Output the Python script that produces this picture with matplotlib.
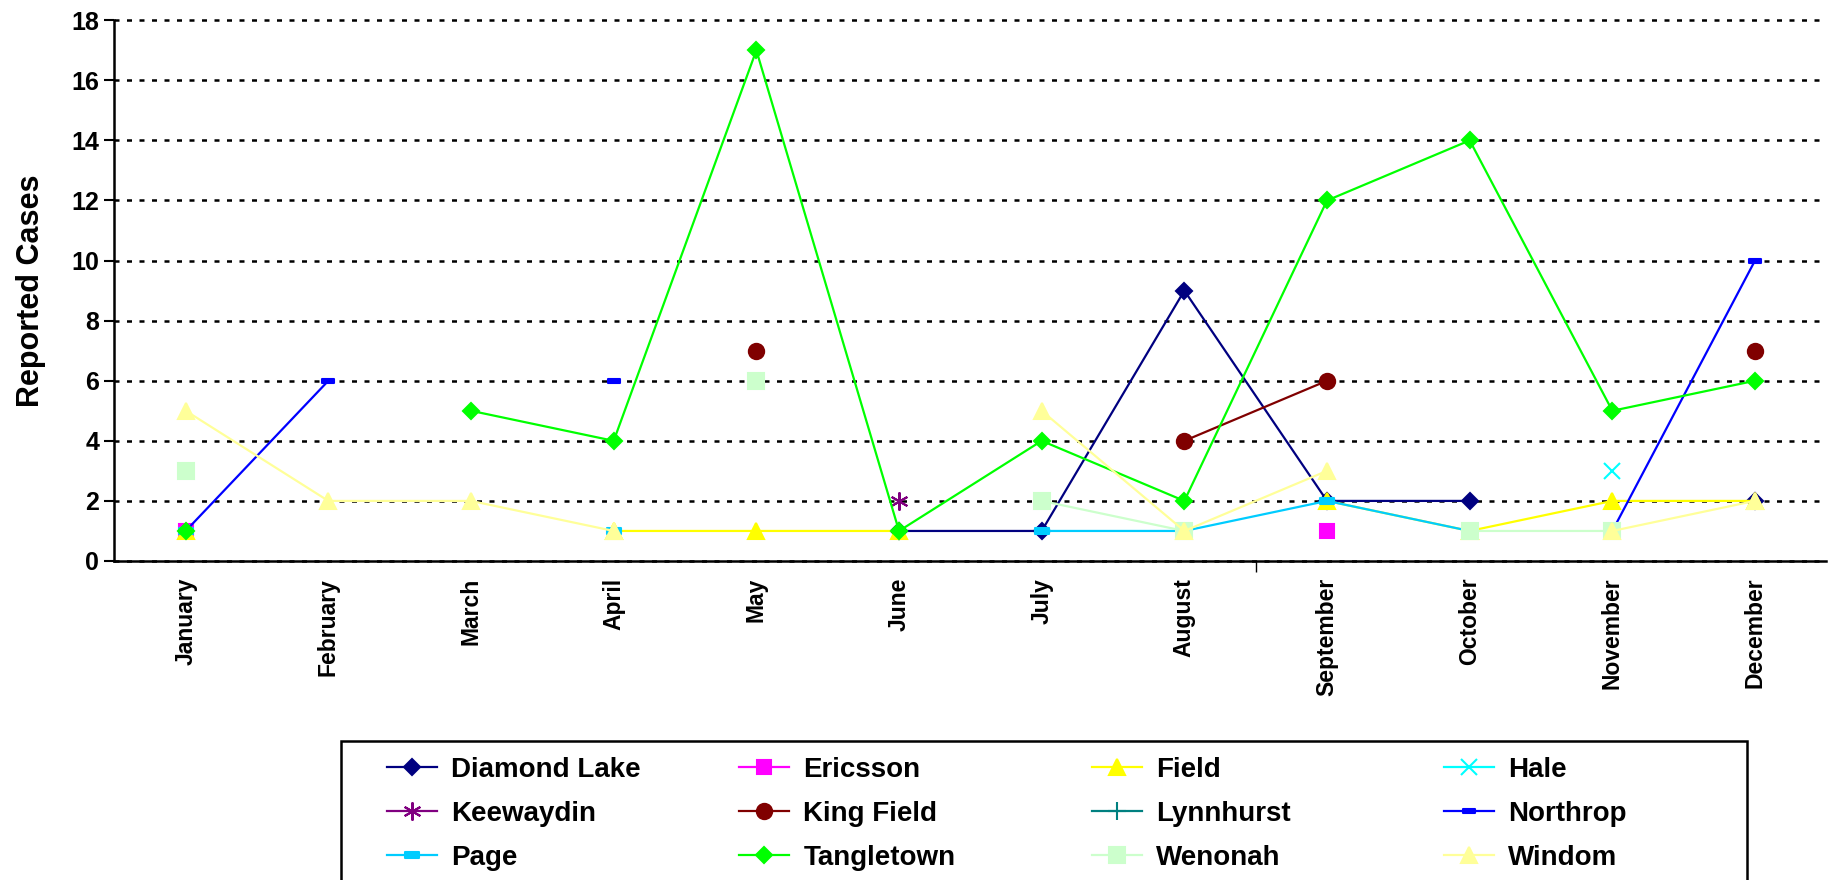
import numpy as np
import matplotlib
matplotlib.use('Agg')
import matplotlib.pyplot as plt
from matplotlib.path import Path
from matplotlib.patches import Rectangle

plt.rcParams['font.family'] = ['Liberation Sans', 'DejaVu Sans']
plt.rcParams['font.weight'] = 'bold'

nan = np.nan
months = ['January', 'February', 'March', 'April', 'May', 'June', 'July',
          'August', 'September', 'October', 'November', 'December']

# reported cases per neighbourhood, nan = no report that month
diamond_lake = [nan, nan, nan, nan, nan, 1, 1, 9, 2, 2, nan, 2]
ericsson     = [1, nan, nan, nan, nan, nan, nan, nan, 1, nan, nan, nan]
field        = [1, nan, nan, 1, 1, 1, nan, nan, 2, 1, 2, 2]
hale         = [nan, nan, nan, nan, nan, nan, nan, nan, nan, nan, 3, nan]
keewaydin    = [nan, nan, nan, nan, nan, 2, nan, nan, nan, nan, nan, nan]
king_field   = [nan, nan, nan, nan, 7, nan, nan, 4, 6, nan, nan, 7]
lynnhurst    = [nan] * 12
northrop     = [1, 6, nan, 6, nan, nan, nan, nan, nan, nan, 1, 10]
page         = [1, nan, nan, 1, nan, nan, 1, 1, 2, 1, nan, nan]
tangletown   = [1, nan, 5, 4, 17, 1, 4, 2, 12, 14, 5, 6]
wenonah      = [3, nan, nan, nan, 6, nan, 2, 1, nan, 1, 1, nan]
windom       = [5, 2, 2, 1, nan, nan, 5, 1, 3, nan, 1, 2]

names = ['Diamond Lake', 'Ericsson', 'Field', 'Hale', 'Keewaydin', 'King Field',
         'Lynnhurst', 'Northrop', 'Page', 'Tangletown', 'Wenonah', 'Windom']
series = [diamond_lake, ericsson, field, hale, keewaydin, king_field,
          lynnhurst, northrop, page, tangletown, wenonah, windom]

# excel-ish markers
dash = Path([(-1, -0.4), (1, -0.4), (1, 0.4), (-1, 0.4), (-1, -0.4)], closed=True)
bar = Path([(-1, -0.45), (1, -0.45), (1, 0.45), (-1, 0.45), (-1, -0.45)], closed=True)
styles = [
    ('#000080', 'D', 8.5),
    ('#FF00FF', 's', 10),
    ('#FFFF00', '^', 11),
    ('#00FFFF', 'x', 11),
    ('#800080', (6, 2, 0), 13),
    ('#800000', 'o', 11),
    ('#008080', '+', 13),
    ('#0000FF', dash, 8),
    ('#00CCFF', bar, 10),
    ('#00FF00', 'D', 8.5),
    ('#CCFFCC', 's', 11),
    ('#FFFF99', '^', 11),
]

fig = plt.figure(figsize=(18.3, 8.8), dpi=100)
ax = fig.add_axes([0.0625, 0.3625, 0.9355, 0.6145])

x = np.arange(len(months))
handles = []
for name, vals, (c, m, ms) in zip(names, series, styles):
    h, = ax.plot(x, vals, color=c, marker=m, markersize=ms, lw=1.6,
                 markerfacecolor=c, markeredgecolor=c, markeredgewidth=1.5, label=name)
    handles.append(h)

ax.set_xlim(-0.5, 11.5)
ax.set_ylim(0, 18)
ax.set_yticks(range(0, 19, 2))
ax.tick_params(axis='y', labelsize=18, length=7, width=1.5, direction='out', pad=4)
for lab in ax.get_yticklabels():
    lab.set_fontweight('bold')
ax.yaxis.grid(True, color='black', linestyle=(0, (2, 3)), lw=1.8)
for gl in ax.get_ygridlines():
    gl.set_clip_on(False)
ax.set_axisbelow(True)

ax.set_xticks(x)
ax.set_xticklabels(months, rotation=90, fontsize=16.5, fontweight='bold', va='top')
ax.tick_params(axis='x', length=0, pad=12)
ax.set_xticks([7.5], minor=True)
ax.tick_params(axis='x', which='minor', length=8, width=1, direction='out')

ax.set_ylabel('Reported Cases', fontsize=22, fontweight='bold', labelpad=18)

for s in ['top', 'right']:
    ax.spines[s].set_visible(False)
ax.spines['left'].set_linewidth(1.8)
ax.spines['bottom'].set_linewidth(1.8)

# legend: frame drawn by hand, one column legend per column so the pitch is even
fig.patches.append(Rectangle((341 / 1830, -0.01), (1747 - 341) / 1830, 0.01 + 1 - 741 / 880,
                             transform=fig.transFigure, fill=False, edgecolor='black', lw=1.8))
for col in range(4):
    idx = [col, col + 4, col + 8]
    lg = fig.legend([handles[i] for i in idx], [names[i] for i in idx],
                    loc='upper left', bbox_to_anchor=((387 + col * 352.4) / 1830, 1 - 757 / 880),
                    frameon=False, borderpad=0, borderaxespad=0, handlelength=1.8,
                    handletextpad=0.5, labelspacing=0.65,
                    prop={'weight': 'bold', 'size': 20})

fig.savefig('out.png', dpi=100)
